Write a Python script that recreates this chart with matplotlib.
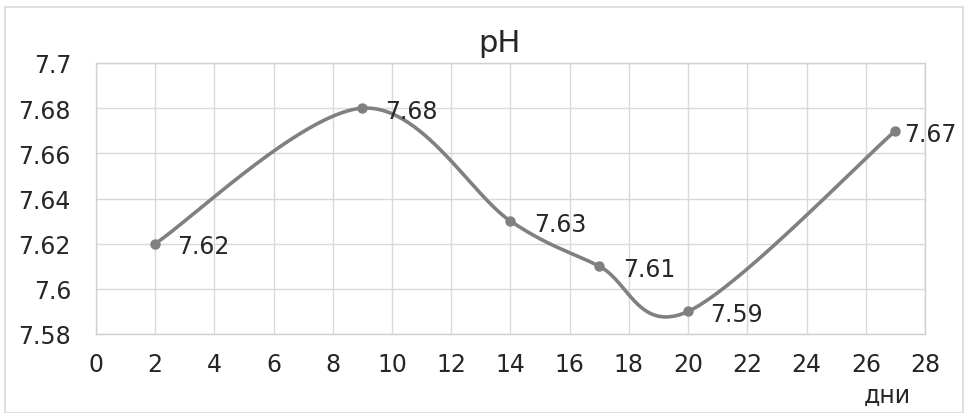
import numpy as np
import matplotlib
matplotlib.use("Agg")
import matplotlib.pyplot as plt
from matplotlib.patches import Rectangle

plt.rcParams['font.family'] = ['DejaVu Sans']

days = [2, 9, 14, 17, 20, 27]
ph = [7.62, 7.68, 7.63, 7.61, 7.59, 7.67]
value_labels = ["7.62", "7.68", "7.63", "7.61", "7.59", "7.67"]
x_ticks = list(range(0, 29, 2))
y_ticks = [7.58, 7.6, 7.62, 7.64, 7.66, 7.68, 7.7]
y_tick_labels = ["7.58", "7.6", "7.62", "7.64", "7.66", "7.68", "7.7"]
title = "pH"
x_title = "дни"


def smooth_curve(xs, ys, n=60):
    """Catmull-Rom style Bezier smoothing through all points."""
    pts = np.column_stack([xs, ys]).astype(float)
    ext = np.vstack([pts[0], pts, pts[-1]])
    out = []
    t = np.linspace(0, 1, n)[:, None]
    for i in range(1, len(ext) - 2):
        p0, p1, p2, p3 = ext[i - 1], ext[i], ext[i + 1], ext[i + 2]
        c1 = p1 + (p2 - p0) / 6.0
        c2 = p2 - (p3 - p1) / 6.0
        seg = ((1 - t) ** 3) * p1 + 3 * ((1 - t) ** 2) * t * c1 \
            + 3 * (1 - t) * t ** 2 * c2 + t ** 3 * p2
        out.append(seg if i == 1 else seg[1:])
    curve = np.vstack(out)
    return curve[:, 0], curve[:, 1]


W, H = 965, 414
fig = plt.figure(figsize=(W / 100, H / 100), dpi=100)
fig.patch.set_facecolor("white")
fig.patches.append(Rectangle((5 / W, 0), (963 - 5) / W, (H - 8) / H,
                             transform=fig.transFigure, fill=False,
                             edgecolor="#d9d9d9", linewidth=1.2))

ax = fig.add_axes([96 / W, 1 - 335 / H, (925 - 96) / W, (335 - 64) / H])
ax.set_xlim(0, 28)
ax.set_ylim(7.58, 7.7)
ax.set_xticks(x_ticks)
ax.set_xticklabels([str(v) for v in x_ticks])
ax.set_yticks(y_ticks)
ax.set_yticklabels(y_tick_labels)
ax.grid(True, color="#d9d9d9", linewidth=1.0)
ax.set_axisbelow(True)
for s in ax.spines.values():
    s.set_color("#d0d0d0")
    s.set_linewidth(1.0)
ax.tick_params(length=0, labelsize=17, colors="#262626")
ax.tick_params(axis="y", pad=18)
ax.tick_params(axis="x", pad=13)

line_color = "#808080"
sx, sy = smooth_curve(days, ph)
ax.plot(sx, sy, color=line_color, linewidth=2.6, solid_capstyle="round", zorder=3)
ax.plot(days, ph, "o", color=line_color, markersize=6.5, zorder=4)

offsets = [16, 16, 17, 17, 16, 6]
for xv, yv, lab, off in zip(days, ph, value_labels, offsets):
    ax.annotate(lab, (xv, yv), xytext=(off, -2), textcoords="offset points",
                ha="left", va="center", fontsize=17, color="#262626",
                annotation_clip=False)

fig.text(499 / W, 1 - 43 / H, title, ha="center", va="center",
         fontsize=22, color="#262626")
fig.text(887 / W, 1 - 396 / H, x_title, ha="center", va="center",
         fontsize=17, color="#262626")

fig.savefig("out.png", dpi=100)
